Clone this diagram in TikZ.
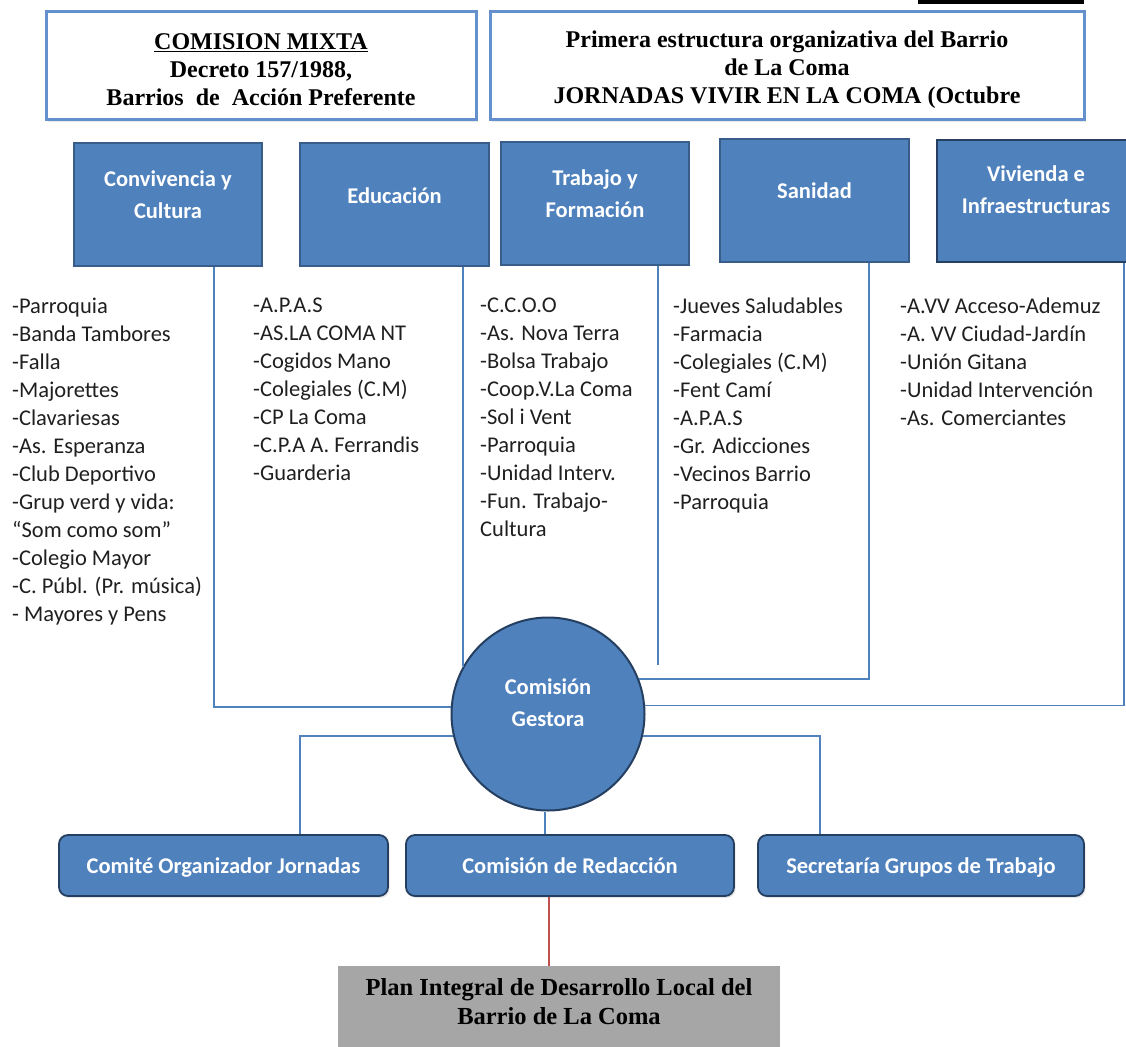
\documentclass[tikz,border=0pt]{standalone}
\usepackage{fontspec}
\setmainfont{Carlito}
\newfontfamily\tnr{Liberation Serif}
\usetikzlibrary{shadows}
\definecolor{ofblue}{RGB}{79,129,189}
\definecolor{ofborder}{RGB}{56,93,138}
\definecolor{ofdark}{RGB}{36,63,96}
\definecolor{conncol}{RGB}{79,129,189}
\definecolor{topborder}{RGB}{100,145,205}
\definecolor{plangray}{RGB}{166,166,166}
\definecolor{redl}{RGB}{192,80,77}
\begin{document}
\begin{tikzpicture}[x=1pt,y=-1pt,
 topbox/.style={draw=topborder, line width=3pt, fill=white, inner sep=0,
   drop shadow={shadow xshift=2pt, shadow yshift=-2pt, opacity=0.18}},
 toplab/.style={align=center, inner sep=0, text=black,
   font=\tnr\bfseries\fontsize{24}{28}\selectfont},
 areabox/.style={draw=ofborder, line width=1.5pt, fill=ofblue, inner sep=0},
 boxlab/.style={text=white, font=\bfseries\fontsize{22.5}{32}\selectfont, align=center, inner sep=0},
 listtxt/.style={anchor=north west, inner sep=0, align=left, font=\fontsize{22.5}{28}\selectfont, text=black!88},
 conn/.style={draw=conncol, line width=1.5pt},
 gestor/.style={circle, draw=ofdark, line width=2pt, fill=ofblue, minimum size=193pt, inner sep=0},
 subbox/.style={rounded corners=9pt, draw=ofdark, line width=1.8pt, fill=ofblue, minimum height=61pt,
   inner sep=0, text=white, font=\bfseries\fontsize{22.5}{24}\selectfont,
   text height=16pt, text depth=1pt,
   drop shadow={shadow xshift=1.5pt, shadow yshift=-2pt, opacity=0.2}},
 planbox/.style={fill=plangray, minimum width=442pt, minimum height=84pt, inner sep=0, anchor=north},
 plantext/.style={font=\tnr\bfseries\fontsize{24.5}{29}\selectfont, align=center, inner sep=0, text=black}
]
\useasboundingbox (0,0) rectangle (1126,1046);
\clip (0,0) rectangle (1126,1046);

% black bar at top
\fill[black] (918,-5) rectangle (1084,4.5);

% top boxes
\node[topbox, minimum width=430pt, minimum height=108pt,
  label={[toplab, yshift=-4pt]center:{\underline{COMISION MIXTA}\\Decreto 157/1988,\\Barrios\ \ de\ \ Acción Preferente}}] (mixta) at (261,66) {};
\node[topbox, minimum width=594pt, minimum height=108pt,
  label={[toplab, yshift=-4pt]center:{Primera estructura organizativa del Barrio\\de La Coma\\JORNADAS VIVIR EN LA COMA (Octubre}}] (primera) at (787,66) {};

% area boxes
\node[areabox, minimum width=188pt, minimum height=123pt,
  label={[boxlab, yshift=10pt]center:{Convivencia y\\Cultura}}] (conv) at (168,204.5) {};
\node[areabox, minimum width=189pt, minimum height=123pt,
  label={[boxlab, yshift=9pt]center:{Educación}}] (edu) at (394.5,204.5) {};
\node[areabox, minimum width=188pt, minimum height=123pt,
  label={[boxlab, yshift=10pt]center:{Trabajo y\\Formación}}] (trab) at (595,203.5) {};
\node[areabox, minimum width=189pt, minimum height=123pt,
  label={[boxlab, yshift=10pt]center:{Sanidad}}] (san) at (814.5,200.5) {};
\node[areabox, draw=ofdark, line width=2.5pt, minimum width=198pt, minimum height=122pt,
  label={[boxlab, yshift=11pt]center:{Vivienda e\\Infraestructuras}}] (viv) at (1036,201) {};

% lists
\node[listtxt] (l1) at (12,298) {-Parroquia\\-Banda Tambores\\-Falla\\-Majorettes\\-Clavariesas\\-As. Esperanza\\-Club Deportivo\\-Grup verd y vida:\\“Som como som”\\-Colegio Mayor\\-C. Públ. (Pr. música)\\- Mayores y Pens};
\node[listtxt] (l2) at (253,298) {-A.P.A.S\\-AS.LA COMA NT\\-Cogidos Mano\\-Colegiales (C.M)\\-CP La Coma\\-C.P.A A. Ferrandis\\-Guarderia};
\node[listtxt] (l3) at (480,298) {-C.C.O.O\\-As. Nova Terra\\-Bolsa Trabajo\\-Coop.V.La Coma\\-Sol i Vent\\-Parroquia\\-Unidad Interv.\\-Fun. Trabajo-\\Cultura};
\node[listtxt] (l4) at (673,298) {-Jueves Saludables\\-Farmacia\\-Colegiales (C.M)\\-Fent Camí\\-A.P.A.S\\-Gr. Adicciones\\-Vecinos Barrio\\-Parroquia};
\node[listtxt] (l5) at (900,298) {-A.VV Acceso-Ademuz\\-A. VV Ciudad-Jardín\\-Unión Gitana\\-Unidad Intervención\\-As. Comerciantes};

% central circle
\node[gestor, label={[boxlab, yshift=11pt]center:{Comisión\\Gestora}}] (gest) at (548,714) {};

% bottom boxes
\node[subbox, minimum width=329pt] (comite) at (223.5,865.5) {Comité Organizador Jornadas};
\node[subbox, minimum width=328pt] (redac) at (570,865.5) {Comisión de Redacción};
\node[subbox, minimum width=326pt] (secr) at (921,865.5) {Secretaría Grupos de Trabajo};

% plan box
\node[planbox] (plan) at (559,966) {};
\node[plantext, anchor=north] (plant) at ([yshift=-12pt]plan.north) {Plan Integral de Desarrollo Local del\\Barrio de La Coma};

% connectors
\coordinate (trabend) at (658,665);
\draw[conn] ([xshift=46pt]conv.south) |- (gest.176.4);
\draw[conn] ([xshift=68.5pt]edu.south) |- (gest.151.7);
\draw[conn] ([xshift=63pt]trab.south) -- (trabend);
\draw[conn] ([xshift=54.5pt]san.south) |- (gest.21.3);
\draw[conn] ([xshift=88pt]viv.south) |- (gest.5.3);
\draw[conn] (gest.193.8) -| ([xshift=76.5pt]comite.north);
\draw[conn] (gest.-13.8) -| ([xshift=-101pt]secr.north);
\draw[conn] ([xshift=-3pt]gest.south) -- ([xshift=-3pt]gest.south |- redac.north);
\draw[draw=redl, line width=2pt] ([xshift=-21pt]redac.south) -- ([xshift=-21pt]redac.south |- plan.north);
\end{tikzpicture}
\end{document}
